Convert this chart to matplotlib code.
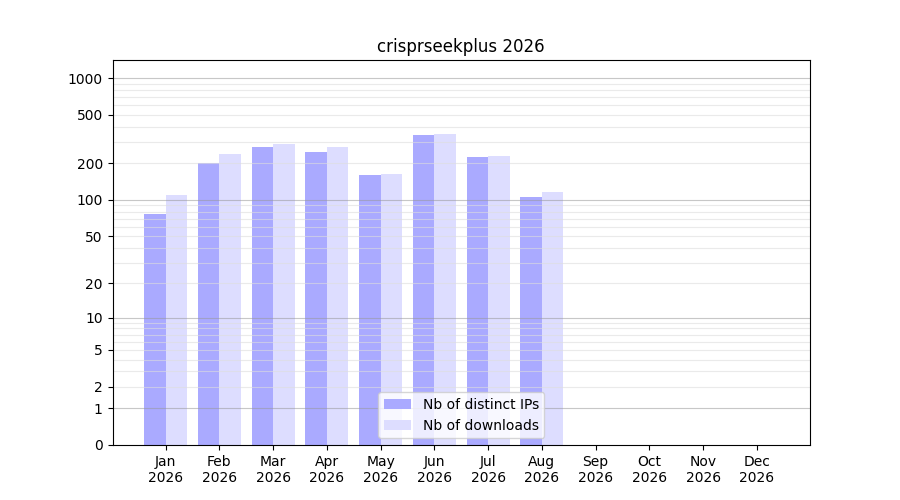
import numpy as np
import matplotlib
matplotlib.use("Agg")
import matplotlib.pyplot as plt

months = ["Jan", "Feb", "Mar", "Apr", "May", "Jun", "Jul", "Aug", "Sep", "Oct", "Nov", "Dec"]
year = "2026"
distinct_ips = [76, 201, 273, 246, 161, 342, 227, 106, 0, 0, 0, 0]
downloads = [110, 240, 289, 273, 164, 349, 231, 116, 0, 0, 0, 0]
ytick_values = [0, 1, 2, 5, 10, 20, 50, 100, 200, 500, 1000]


def fwd(y):
    return np.log10(1 + np.clip(y, 0, None))


def inv(y):
    return 10 ** y - 1


fig, ax = plt.subplots(figsize=(9, 5), dpi=100)
x = np.arange(1, len(months) + 1)

ax.bar(x, distinct_ips, width=-0.4, align="edge", color="#aaaaff", label="Nb of distinct IPs")
ax.bar(x, downloads, width=0.4, align="edge", color="#ddddff", label="Nb of downloads")

ax.set_yscale("function", functions=(fwd, inv))
ax.set_ylim(0, 1405)

# grid: decades darker, the rest light
for dec in [1, 10, 100, 1000]:
    ax.axhline(dec, color="#999999", alpha=0.55, lw=0.8, zorder=1.5)
    if dec < 1000:
        for k in range(2, 10):
            ax.axhline(dec * k, color="#dddddd", alpha=0.6, lw=0.8, zorder=1.5)

ax.set_yticks(ytick_values)
ax.set_yticklabels([str(v) for v in ytick_values])
ax.minorticks_off()
ax.set_xticks(x)
ax.set_xticklabels([f"{m}\n{year}" for m in months])
ax.set_title("crisprseekplus 2026")
ax.legend(loc="lower center")

fig.savefig("out.png")
